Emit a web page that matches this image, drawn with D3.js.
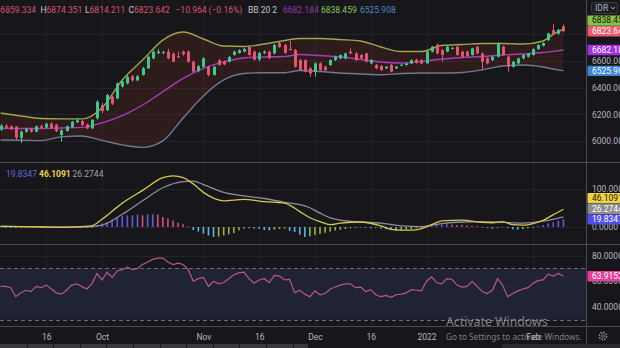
<!DOCTYPE html>
<html>
<head>
<meta charset="utf-8">
<script src="https://cdn.jsdelivr.net/npm/d3@7"></script>
<style>
  html, body { margin: 0; padding: 0; background: #17171b; }
  svg { display: block; font-family: Roboto, "Liberation Sans", sans-serif; }
</style>
</head>
<body>
<svg id="chart" width="620" height="348"></svg>
<script>
// ---- USD/IDR daily bars (bar index 0..111) ----
const open = [6085,6115,6110,6107,6025,6070,6092,6070,6112,6100,6130,6122,6045,6075,6105,6140,6150,6125,6095,6170,
  6270,6230,6330,6320,6410,6432,6485,6455,6495,6545,6620,6660,6660,6670,6655,6637,6670,6670,6595,6525,
  6555,6557,6495,6605,6595,6595,6645,6660,6670,6705,6670,6610,6660,6670,6657,6735,6720,6690,6682,6607,
  6607,6545,6520,6582,6557,6570,6607,6620,6620,6670,6657,6645,6657,6582,6570,6562,6545,6570,6545,6570,
  6570,6582,6610,6607,6582,6670,6720,6682,6670,6695,6707,6670,6670,6645,6707,6657,6620,6607,6632,6707,
  6632,6557,6582,6620,6632,6645,6690,6715,6757,6832,6805,6859.334];
const high = [6128,6125,6118,6112,6078,6098,6100,6118,6122,6138,6140,6130,6088,6118,6150,6170,6158,6130,6165,6305,
  6285,6355,6340,6440,6455,6492,6495,6495,6555,6640,6680,6690,6675,6690,6665,6670,6678,6680,6602,6570,
  6628,6565,6565,6615,6605,6640,6678,6688,6698,6715,6680,6668,6680,6678,6728,6745,6728,6750,6690,6615,
  6612,6552,6590,6590,6565,6612,6640,6650,6662,6695,6665,6652,6662,6612,6578,6570,6562,6578,6562,6580,
  6588,6612,6618,6615,6675,6712,6732,6690,6712,6705,6715,6678,6678,6700,6712,6665,6628,6638,6740,6715,
  6640,6600,6625,6650,6660,6695,6725,6740,6812,6880,6840,6874.351];
const low = [6075,6092,6082,6007,5985,6062,6062,6065,6090,6095,6088,6065,5995,6070,6100,6135,6112,6088,6090,6160,
  6210,6225,6270,6312,6400,6425,6445,6450,6490,6540,6612,6650,6650,6612,6590,6620,6640,6588,6512,6515,
  6550,6485,6490,6565,6568,6590,6640,6655,6665,6640,6605,6600,6652,6615,6650,6698,6655,6680,6550,6525,
  6515,6482,6482,6525,6525,6562,6600,6612,6612,6652,6600,6612,6590,6575,6538,6525,6540,6515,6540,6562,
  6565,6578,6580,6575,6578,6665,6650,6595,6665,6688,6640,6625,6630,6640,6650,6532,6575,6600,6628,6640,
  6520,6550,6578,6612,6625,6640,6682,6710,6750,6795,6798,6814.211];
const close = [6115,6100,6090,6025,6070,6090,6070,6110,6100,6130,6095,6075,6080,6110,6145,6155,6120,6095,6157,6295,
  6225,6345,6280,6432,6445,6482,6455,6485,6545,6632,6670,6670,6668,6620,6595,6635,6650,6595,6520,6560,
  6620,6495,6557,6570,6575,6630,6670,6680,6690,6645,6610,6660,6670,6620,6720,6705,6660,6688,6557,6532,
  6520,6507,6582,6532,6532,6607,6632,6645,6657,6657,6607,6620,6595,6607,6545,6532,6557,6520,6557,6572,
  6582,6607,6585,6580,6670,6707,6657,6645,6707,6697,6645,6632,6637,6695,6657,6595,6582,6632,6732,6645,
  6557,6595,6620,6645,6657,6690,6720,6735,6807,6800,6834.606,6823.642];

// ---- Bollinger Bands (20, 2) read at these bar indices ----
const bbIdx   = [0,4,8,12,16,20,24,28,32,36,40,44,48,52,56,59,63,67,71,75,79,83,87,91,95,99,103,107,109,111];
const bbUpper = [6210,6188,6169,6166,6166,6248,6458,6607,6757,6817,6765,6712,6709,6727,6754,
                 6769,6769,6761,6750,6705,6671,6671,6716,6724,6731,6731,6727,6750,6800,6838.459];
const bbBasis = [6096,6094,6094,6098,6102,6136,6190,6270,6370,6470,6545,6593,6622,6630,6634,
                 6649,6641,6630,6611,6593,6585,6596,6615,6626,6634,6645,6652,6664,6672,6682.184];
const bbLower = [6008,6006,6003,6031,6038,6005,5971,5952,6001,6173,6338,6458,6506,6512,6512,
                 6529,6521,6510,6503,6497,6506,6510,6510,6514,6533,6563,6570,6555,6540,6525.908];

// ---- MACD ----
const macdIdx = [0,4,8,12,16,18,20,24,28,32,34,36,38,40,42,44,48,52,56,57,59,61,63,65,67,71,75,77,79,81,83,85,87,91,95,97,99,101,103,105,107,109,111];
const macdVal = [2,1,0,-1,1,3,20,62,95,128,133,128,112,90,75,68,72,66,62,57,40,24,14,6,10,13,3,-6,-8,-8,-4,6,16,18,12,11,14,6,5,9,17,32,46.1091];
const sigIdx  = [0,4,8,12,16,20,24,28,32,36,38,40,44,48,52,56,59,61,63,65,67,71,75,79,83,87,91,95,99,103,107,109,111];
const sigVal  = [1,1,1,0,0,5,33,68,102,118,119,110,90,81,74,64,58,50,36,24,18,13,10,3,1,9,13,14,12,10,15,20,26.2744];
const histVal = [0.5,-0.5,-1,-1.5,-1,0.5,0.5,1,0,-0.5,0.5,-1,-1.5,-0.5,0.5,1,0.5,-0.5,0,
  4,9,13,19,24,28,30,30,32,30,33,33,32,26,22,17,11,7,2,
  -8,-12,-17,-22,-26,-25,-22,-19,-16,-9,-4,-3,-4,-5,-8,-9,-7,-5,-4,
  -10,-13,
  -20,-26,-24,-21,-18,-15,-12,-9,-7,-5,-3,-2,0.5,-1,-3,-2,-4,-6,-8,-10,-9,-7,-5,-3,-2,1,3,5,6,7,6,5,6,4,3,2,0.5,-2,-4,-2,1,-3,-6,-7,-5,-3,-1,2,5,9,12,16,19.8347];

// ---- RSI (14) ----
const rsiVal = [56,56,55,48,51,53,52,56,55,57,54,51,50,53,57,58,56,54,58,66,
  61,67,63,68,69,71,69,70,73,75,77,78,78,75,73,74,73,69,60,62,
  63,56,60,58,59,62,65,66.5,67,62,58.5,61,62,59,64.5,64,61,61.5,51,53,
  50,48,52.5,49.5,50.5,54,55.5,57,58,58,55,55.5,52,53.5,49.5,48,49,47.5,49.5,50,
  51,53.5,53,52.5,60,63.5,59,58,62,61.5,57,55.5,56,60,56,52,50.5,53,62,57,
  48,50.5,52.5,54,55,58.5,60.5,61,65.5,64,66,63.9152];

// ---- axis ticks ----
const timeTickIdx    = [9,20,40,51,62,73,84,105];
const timeTickLabels = ["16","Oct","Nov","16","Dec","16","2022","Feb"];
const priceTicks = [6000,6200,6400,6600];
const priceGrid  = [6000,6200,6400,6600,6800];
const macdTicks  = [0,100];
const rsiTicks   = [40,60,80];

// ---- layout ----
const W = 620, H = 348, PR = 586;
const pane = { price: [0, 162], macd: [163, 244], rsi: [245, 326] };
const C = {
  bg: "#17171b", grid: "#232329", sep: "#4a4a52", axisText: "#b4b6bd",
  up: "#3cc98b", down: "#e5566e",
  bbUp: "#9ea54c", bbMid: "#a83cbc", bbLow: "#6c7a92", bbFill: "rgba(120,48,38,0.24)",
  macd: "#d6c84c", signal: "#8e8e9a",
  hUpGrow: "#5d5ddc", hUpFall: "#dc4a7c", hDnGrow: "#55b6de", hDnFall: "#98b23e",
  rsi: "#b9578c", rsiBand: "#1f2334", rsiDash: "#6b6b78"
};

const x = d3.scaleLinear().domain([20, 105]).range([102, 533]);
const yP = d3.scaleLinear().domain([6000, 6600]).range([141, 61]);
const yM = d3.scaleLinear().domain([0, 100]).range([227, 188.5]);
const yR = d3.scaleLinear().domain([40, 80]).range([307, 255.5]);

const svg = d3.select("#chart");
svg.append("rect").attr("width", W).attr("height", H).attr("fill", C.bg);

const defs = svg.append("defs");
Object.entries(pane).forEach(([k, [t, b]]) => {
  defs.append("clipPath").attr("id", "clip-" + k)
    .append("rect").attr("x", 0).attr("y", t).attr("width", PR).attr("height", b - t);
});

const crisp = g => g.attr("shape-rendering", "crispEdges");

// RSI band
svg.append("rect").attr("x", 0).attr("width", PR)
  .attr("y", yR(70)).attr("height", yR(30) - yR(70)).attr("fill", C.rsiBand);

// grid
const grid = svg.append("g").call(crisp).attr("stroke", C.grid).attr("stroke-width", 1);
timeTickIdx.forEach(i => {
  const xx = Math.round(x(i)) + 0.5;
  grid.append("line").attr("x1", xx).attr("x2", xx).attr("y1", 0).attr("y2", pane.rsi[1]);
});
priceGrid.forEach(v => grid.append("line").attr("x1", 0).attr("x2", PR).attr("y1", Math.round(yP(v)) + 0.5).attr("y2", Math.round(yP(v)) + 0.5));
macdTicks.forEach(v => grid.append("line").attr("x1", 0).attr("x2", PR).attr("y1", Math.round(yM(v)) + 0.5).attr("y2", Math.round(yM(v)) + 0.5));
rsiTicks.forEach(v => grid.append("line").attr("x1", 0).attr("x2", PR).attr("y1", Math.round(yR(v)) + 0.5).attr("y2", Math.round(yR(v)) + 0.5));

// ---- price pane ----
const gP = svg.append("g").attr("clip-path", "url(#clip-price)");
const bbPts = bbIdx.map((d, k) => ({ i: d, u: bbUpper[k], m: bbBasis[k], l: bbLower[k] }));
gP.append("path").datum(bbPts)
  .attr("d", d3.area().x(d => x(d.i)).y0(d => yP(d.l)).y1(d => yP(d.u)).curve(d3.curveMonotoneX))
  .attr("fill", C.bbFill);
[["u", C.bbUp], ["l", C.bbLow], ["m", C.bbMid]].forEach(([key, col]) => {
  gP.append("path").datum(bbPts)
    .attr("d", d3.line().x(d => x(d.i)).y(d => yP(d[key])).curve(d3.curveMonotoneX))
    .attr("fill", "none").attr("stroke", col).attr("stroke-width", 1.4);
});

const candles = gP.append("g").selectAll("g").data(open.map((o, i) => i)).join("g");
candles.append("line")
  .attr("x1", i => Math.round(x(i)) + 0.5).attr("x2", i => Math.round(x(i)) + 0.5)
  .attr("y1", i => yP(high[i])).attr("y2", i => yP(low[i]))
  .attr("stroke", i => close[i] >= open[i] ? C.up : C.down).attr("stroke-width", 1);
candles.append("rect")
  .attr("x", i => Math.round(x(i)) - 1).attr("width", 3)
  .attr("y", i => yP(Math.max(open[i], close[i])))
  .attr("height", i => Math.max(1, Math.abs(yP(open[i]) - yP(close[i]))))
  .attr("fill", i => close[i] >= open[i] ? C.up : C.down);

// ---- MACD pane ----
const gM = svg.append("g").attr("clip-path", "url(#clip-macd)");
gM.append("g").selectAll("rect").data(histVal).join("rect")
  .attr("x", (v, i) => x(i) - 0.8).attr("width", 1.6)
  .attr("y", v => Math.min(yM(v), yM(0)))
  .attr("height", v => Math.max(0.8, Math.abs(yM(v) - yM(0))))
  .attr("fill", (v, i) => {
    const p = i > 0 ? histVal[i - 1] : v;
    if (v >= 0) return v >= p ? C.hUpGrow : C.hUpFall;
    return v <= p ? C.hDnGrow : C.hDnFall;
  });
gM.append("path").datum(sigIdx.map((d, k) => [d, sigVal[k]]))
  .attr("d", d3.line().x(d => x(d[0])).y(d => yM(d[1])).curve(d3.curveMonotoneX))
  .attr("fill", "none").attr("stroke", C.signal).attr("stroke-width", 1.3);
gM.append("path").datum(macdIdx.map((d, k) => [d, macdVal[k]]))
  .attr("d", d3.line().x(d => x(d[0])).y(d => yM(d[1])).curve(d3.curveMonotoneX))
  .attr("fill", "none").attr("stroke", C.macd).attr("stroke-width", 1.3);

// ---- RSI pane ----
const gR = svg.append("g").attr("clip-path", "url(#clip-rsi)");
[70, 30].forEach(v => gR.append("line").attr("x1", 0).attr("x2", PR)
  .attr("y1", Math.round(yR(v)) + 0.5).attr("y2", Math.round(yR(v)) + 0.5)
  .attr("stroke", C.rsiDash).attr("stroke-dasharray", "4,3"));
gR.append("path").datum(rsiVal)
  .attr("d", d3.line().x((v, i) => x(i)).y(v => yR(v)))
  .attr("fill", "none").attr("stroke", C.rsi).attr("stroke-width", 1.2);

// ---- separators ----
const sep = svg.append("g").call(crisp).attr("stroke", C.sep);
[pane.price[1] + 0.5, pane.macd[1] + 0.5, pane.rsi[1] + 0.5].forEach(yy =>
  sep.append("line").attr("x1", 0).attr("x2", W).attr("y1", yy).attr("y2", yy));
sep.append("line").attr("x1", PR + 0.5).attr("x2", PR + 0.5).attr("y1", 0).attr("y2", 344);

// ---- right scales ----
const fs = 8.5;
function styleAxis(g) {
  g.select(".domain").remove();
  g.selectAll("text").attr("fill", C.axisText).attr("font-size", fs).attr("font-family", "Roboto, sans-serif");
}
svg.append("g").attr("transform", `translate(${PR + 3},0)`)
  .call(d3.axisRight(yP).tickValues(priceTicks).tickSize(0).tickFormat(d3.format(".3f")))
  .call(styleAxis);
const macdFmt = v => v >= 100 ? v.toFixed(3) : v.toFixed(4);
svg.append("g").attr("transform", `translate(${PR + 3},0)`)
  .call(d3.axisRight(yM).tickValues(macdTicks).tickSize(0).tickFormat(macdFmt))
  .call(styleAxis);
svg.append("g").attr("transform", `translate(${PR + 3},0)`)
  .call(d3.axisRight(yR).tickValues(rsiTicks).tickSize(0).tickFormat(d => d.toFixed(4)))
  .call(styleAxis);

function tag(yc, text, bg, fg) {
  const g = svg.append("g");
  g.append("rect").attr("x", PR + 1.5).attr("y", yc - 5.2).attr("width", W - PR).attr("height", 10.4)
    .attr("rx", 1).attr("fill", bg);
  g.append("text").attr("x", PR + 6).attr("y", yc).attr("dy", "0.34em")
    .attr("font-size", fs).attr("fill", fg).text(text);
}
const last = close.length - 1;
const TAGH = 10.6;
const f3 = d3.format(".3f");
const yClose = yP(close[last]);
tag(Math.min(yP(bbUpper[bbUpper.length - 1]), yClose - TAGH), f3(bbUpper[bbUpper.length - 1]), "#86c24a", "#10140c");
tag(yClose, f3(close[last]), "#ec5b6c", "#ffffff");
tag(yP(bbBasis[bbBasis.length - 1]), f3(bbBasis[bbBasis.length - 1]), "#a12fe0", "#ffffff");
tag(yP(bbLower[bbLower.length - 1]), f3(bbLower[bbLower.length - 1]), "#3a86d2", "#ffffff");

const hLast = histVal[histVal.length - 1], sLast = sigVal[sigVal.length - 1], mLast = macdVal[macdVal.length - 1];
const yH = yM(hLast), yS = Math.min(yM(sLast), yH - TAGH), yMm = Math.min(yM(mLast), yS - TAGH);
tag(yMm, mLast.toFixed(4), "#f0d23c", "#1a1a10");
tag(yS, sLast.toFixed(4), "#8d8d8d", "#ffffff");
tag(yH, hLast.toFixed(4), "#5050e6", "#ffffff");
tag(yR(rsiVal[last]), rsiVal[last].toFixed(4), "#e43f97", "#ffffff");

// currency button
svg.append("rect").attr("x", 591.5).attr("y", 2.5).attr("width", 26).attr("height", 11).attr("rx", 2)
  .attr("fill", "#1d1d22").attr("stroke", "#3a3a42");
svg.append("text").attr("x", 595).attr("y", 11.3).attr("font-size", fs).attr("fill", C.axisText).text("IDR");
svg.append("path").attr("d", "M611,7 l2,2 l2,-2").attr("fill", "none").attr("stroke", C.axisText).attr("stroke-width", 0.9);

// ---- time axis ----
svg.append("g").attr("transform", `translate(0,${pane.rsi[1] + 3})`)
  .call(d3.axisBottom(x).tickValues(timeTickIdx).tickSize(0).tickFormat((d, k) => timeTickLabels[k]))
  .call(g => {
    g.select(".domain").remove();
    g.selectAll("text").attr("fill", C.axisText).attr("font-size", fs).attr("dy", "0.95em")
      .attr("font-family", "Roboto, sans-serif");
  });

// ---- legends ----
function legend(xx, yy, parts) {
  const t = svg.append("text").attr("x", xx).attr("y", yy).attr("font-size", fs);
  parts.forEach(([s, col, w]) => t.append("tspan").attr("fill", col).attr("font-weight", w || null).text(s));
}
const red = "#d9536a", lab = "#c3c5cc";
const chg = close[last] - close[last - 1];
const pct = chg / close[last - 1] * 100;
legend(-5.5, 13, [["O", lab], [f3(open[last]), red]]);
legend(40.5, 13, [["H", lab], [f3(high[last]), red]]);
legend(85, 13, [["L", lab], [f3(low[last]), red]]);
legend(128.5, 13, [["C", lab], [f3(close[last]), red]]);
legend(175.5, 13, [[`${f3(chg).replace("-", "\u2212")} (${pct.toFixed(2).replace("-", "\u2212")}%)`, red]]);
legend(248, 13, [["BB 20 2", lab]]);
legend(283, 13, [[f3(bbBasis[bbBasis.length - 1]), "#9a34ad"]]);
legend(321, 13, [[f3(bbUpper[bbUpper.length - 1]), "#8fc155"]]);
legend(360, 13, [[f3(bbLower[bbLower.length - 1]), "#4d86c2"]]);

legend(6, 176.5, [[hLast.toFixed(4), "#6565d6"]]);
legend(39, 176.5, [[mLast.toFixed(4), "#ecd24a", "bold"]]);
legend(72.5, 176.5, [[sLast.toFixed(4), "#a2a2aa"]]);

// ---- bottom toolbar strip ----
const strip = svg.append("g").call(crisp);
strip.append("rect").attr("x", 0).attr("y", 344).attr("width", 308).attr("height", 4).attr("fill", "#38383e");
d3.range(1, 12).forEach(k => strip.append("rect").attr("x", Math.round(k * 26.6)).attr("y", 344).attr("width", 1).attr("height", 4).attr("fill", "#1c1c20"));
strip.append("rect").attr("x", 502).attr("y", 344).attr("width", 118).attr("height", 4).attr("fill", "#2a2a2f");

// gear icon
const gear = svg.append("g").attr("transform", "translate(603,336)");
gear.append("circle").attr("r", 3.6).attr("fill", "none").attr("stroke", "#8a8a92").attr("stroke-width", 1.6).attr("stroke-dasharray", "1.6,1.2");
gear.append("circle").attr("r", 1.4).attr("fill", "none").attr("stroke", "#8a8a92").attr("stroke-width", 0.8);

// system watermark
svg.append("text").attr("x", 446).attr("y", 326).attr("font-size", 12.3)
  .attr("font-family", "'Noto Sans', 'Open Sans', sans-serif").attr("fill", "rgba(215,215,220,0.55)").text("Activate Windows");
svg.append("text").attr("x", 446).attr("y", 340).attr("font-size", 8.2)
  .attr("font-family", "'Noto Sans', 'Open Sans', sans-serif").attr("fill", "rgba(215,215,220,0.55)").text("Go to Settings to activate Windows.");
</script>
</body>
</html>
